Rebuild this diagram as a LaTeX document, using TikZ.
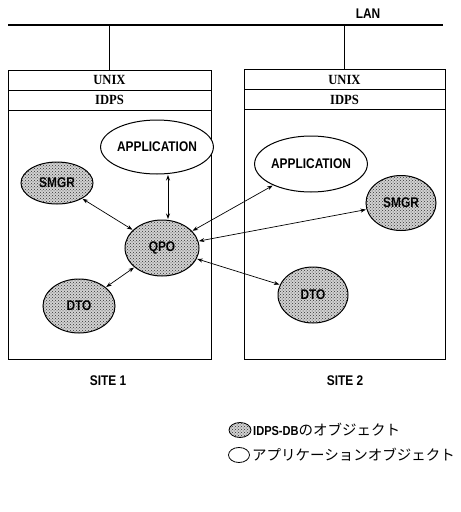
\documentclass[tikz,border=0pt]{standalone}
\usepackage{fontspec}
\setmainfont[FakeStretch=0.9]{Liberation Serif}
\newfontfamily\sitefont[FakeStretch=0.85]{Liberation Sans}
\newfontfamily\jpfont{Noto Sans CJK JP}
\usetikzlibrary{positioning,shapes.geometric,arrows.meta,patterns}

\begin{document}
\begin{tikzpicture}[
		x=1pt, y=-1pt,
		>={Stealth[length=5.5pt,width=4pt]},
		obj/.style = {draw, ellipse, inner sep=0pt, line width=1pt, font=\sitefont\bfseries\fontsize{14}{16}\selectfont},
		dbobj/.style = {obj, preaction={fill=gray!35}, pattern=crosshatch dots, pattern color=black!80},
		appobj/.style = {obj, fill=white},
		layer/.style = {draw, line width=.8pt, minimum height=20pt, inner sep=0pt, font=\bfseries\fontsize{14}{16}\selectfont},
		site/.style = {draw, line width=.8pt, inner sep=0pt},
		caption/.style = {font=\sitefont\bfseries\fontsize{14}{16}\selectfont},
		link/.style = {<->, line width=.7pt, shorten <=.5pt, shorten >=.5pt}
	]
	\useasboundingbox (0,0) rectangle (461,512);
	% LAN.
	\coordinate (lanL) at (8,25);
	\coordinate (lanR) at (443,25);
	\draw[line width=2.4pt] (lanL) -- (lanR);
	\node[caption] (lan) at (368,14) {LAN};
	% Site 1.
	\node[site, minimum width=203pt, minimum height=289pt] (site1) at (109.5,214.5) {};
	\node[layer, minimum width=203pt] (unix1) at (109.5,80) {UNIX};
	\node[layer, minimum width=203pt] (idps1) at (109.5,100) {IDPS};
	\node[appobj, minimum width=88pt, minimum height=54pt] (app1) at (157,147) {APPLICATION};
	\node[dbobj, minimum width=72pt, minimum height=42pt] (smgr1) at (57,183) {SMGR};
	\node[dbobj, minimum width=74pt, minimum height=56pt] (qpo1) at (162,248) {QPO};
	\node[dbobj, minimum width=72pt, minimum height=54pt] (dto1) at (79,306) {DTO};
	\node[caption] (label1) at (108,381) {SITE 1};
	% Site 2.
	\node[site, minimum width=201pt, minimum height=290pt] (site2) at (344.5,214) {};
	\node[layer, minimum width=201pt] (unix2) at (344.5,79.5) {UNIX};
	\node[layer, minimum width=201pt] (idps2) at (344.5,99.5) {IDPS};
	\node[appobj, minimum width=92pt, minimum height=56pt] (app2) at (311,164) {APPLICATION};
	\node[dbobj, minimum width=70pt, minimum height=55pt] (smgr2) at (401,203) {SMGR};
	\node[dbobj, minimum width=70pt, minimum height=56pt] (dto2) at (313,295) {DTO};
	\node[caption] (label2) at (345,381) {SITE 2};
	% Legend.
	\node[dbobj, line width=.8pt, minimum width=22pt, minimum height=15pt] (keydb) at (240,430) {};
	\node[appobj, line width=.8pt, minimum width=21pt, minimum height=15pt] (keyapp) at (239,455) {};
	\node[anchor=west, inner sep=0pt, font=\fontsize{14.5}{16}\selectfont] (keydbtext) at (253,430) {\sitefont\bfseries\fontsize{13}{15}\selectfont IDPS-DB\jpfont\mdseries\fontsize{14.5}{16}\selectfont のオブジェクト};
	\node[anchor=west, inner sep=0pt, font=\jpfont\fontsize{14.5}{16}\selectfont] (keyapptext) at (252,455) {アプリケーションオブジェクト};

	\draw[line width=1pt] (unix1.north |- lanL) -- (unix1.north);
	\draw[line width=1pt] (unix2.north |- lanL) -- (unix2.north);
	\draw[link] ([xshift=11pt]app1.south) -- ([xshift=6pt]qpo1.north);
	\draw[link] (smgr1) -- (qpo1);
	\draw[link] (qpo1) -- (dto1);
	\draw[link] (qpo1) -- (app2);
	\draw[link] (qpo1) -- (smgr2);
	\draw[link] (qpo1) -- (dto2);
\end{tikzpicture}
\end{document}
